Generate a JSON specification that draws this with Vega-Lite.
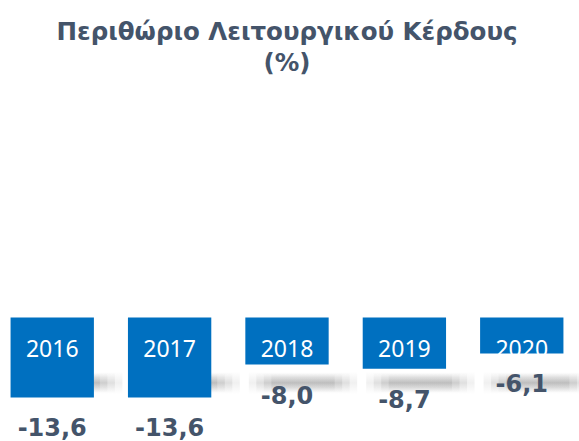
{
  "$schema": "https://vega.github.io/schema/vega-lite/v6.json",
  "width": 574,
  "height": 351,
  "autosize": {"type": "none"},
  "padding": {"top": 90, "left": 0, "right": 5, "bottom": 0},
  "background": "white",
  "config": {
    "view": {"stroke": null},
    "locale": {"number": {"decimal": ",", "thousands": ".", "grouping": [3], "currency": ["", " €"], "minus": "-"}}
  },
  "title": {
    "text": ["Περιθώριο Λειτουργικού Κέρδους", "(%)"],
    "anchor": "middle",
    "frame": "group",
    "font": "DejaVu Sans",
    "fontWeight": "bold",
    "fontSize": 24.5,
    "lineHeight": 31,
    "color": "#44546A",
    "offset": 14
  },
  "data": {
    "values": [
      {"year": "2016", "margin": -13.6},
      {"year": "2017", "margin": -13.6},
      {"year": "2018", "margin": -8.0},
      {"year": "2019", "margin": -8.7},
      {"year": "2020", "margin": -6.1}
    ]
  },
  "encoding": {
    "x": {"field": "year", "type": "nominal", "axis": null, "scale": {"paddingInner": 0.29, "paddingOuter": 0.09}}
  },
  "layer": [
    {
      "mark": {
        "type": "bar",
        "xOffset": 16,
        "width": {"band": 1.3},
        "color": {"gradient": "linear", "x1": 0, "y1": 0, "x2": 0, "y2": 1, "stops": [{"offset": 0, "color": "rgba(0,0,0,0)"}, {"offset": 0.5, "color": "rgba(0,0,0,0.06)"}, {"offset": 1, "color": "rgba(0,0,0,0)"}]}
      },
      "encoding": {
        "y": {"datum": -9.2, "scale": {"domain": [-21, 38.7], "nice": false, "zero": false}, "axis": null},
        "y2": {"datum": -13.0}
      }
    },
    {
      "mark": {
        "type": "bar",
        "xOffset": 16,
        "width": {"band": 1.12},
        "color": {"gradient": "linear", "x1": 0, "y1": 0, "x2": 0, "y2": 1, "stops": [{"offset": 0, "color": "rgba(0,0,0,0)"}, {"offset": 0.5, "color": "rgba(0,0,0,0.07)"}, {"offset": 1, "color": "rgba(0,0,0,0)"}]}
      },
      "encoding": {
        "y": {"datum": -9.3, "scale": {"domain": [-21, 38.7], "nice": false, "zero": false}, "axis": null},
        "y2": {"datum": -12.9}
      }
    },
    {
      "mark": {
        "type": "bar",
        "xOffset": 16,
        "width": {"band": 0.94},
        "color": {"gradient": "linear", "x1": 0, "y1": 0, "x2": 0, "y2": 1, "stops": [{"offset": 0, "color": "rgba(0,0,0,0)"}, {"offset": 0.5, "color": "rgba(0,0,0,0.08)"}, {"offset": 1, "color": "rgba(0,0,0,0)"}]}
      },
      "encoding": {
        "y": {"datum": -9.4, "scale": {"domain": [-21, 38.7], "nice": false, "zero": false}, "axis": null},
        "y2": {"datum": -12.8}
      }
    },
    {
      "mark": {
        "type": "bar",
        "xOffset": 16,
        "width": {"band": 0.76},
        "color": {"gradient": "linear", "x1": 0, "y1": 0, "x2": 0, "y2": 1, "stops": [{"offset": 0, "color": "rgba(0,0,0,0)"}, {"offset": 0.5, "color": "rgba(0,0,0,0.08)"}, {"offset": 1, "color": "rgba(0,0,0,0)"}]}
      },
      "encoding": {
        "y": {"datum": -9.5, "scale": {"domain": [-21, 38.7], "nice": false, "zero": false}, "axis": null},
        "y2": {"datum": -12.7}
      }
    },
    {
      "mark": {"type": "bar", "color": "#0070C0"},
      "encoding": {
        "y": {"field": "margin", "type": "quantitative", "scale": {"domain": [-21, 38.7], "nice": false, "zero": false}, "axis": null}
      }
    },
    {
      "mark": {"type": "text", "color": "white", "font": "Noto Sans", "fontSize": 23, "baseline": "middle", "dy": 32},
      "encoding": {
        "y": {"datum": 0},
        "text": {"field": "year"}
      }
    },
    {
      "mark": {"type": "text", "color": "#44546A", "font": "DejaVu Sans", "fontWeight": "bold", "fontSize": 24, "baseline": "middle", "dy": 32},
      "encoding": {
        "y": {"field": "margin", "type": "quantitative"},
        "text": {"field": "margin", "format": ".1f"}
      }
    }
  ]
}
